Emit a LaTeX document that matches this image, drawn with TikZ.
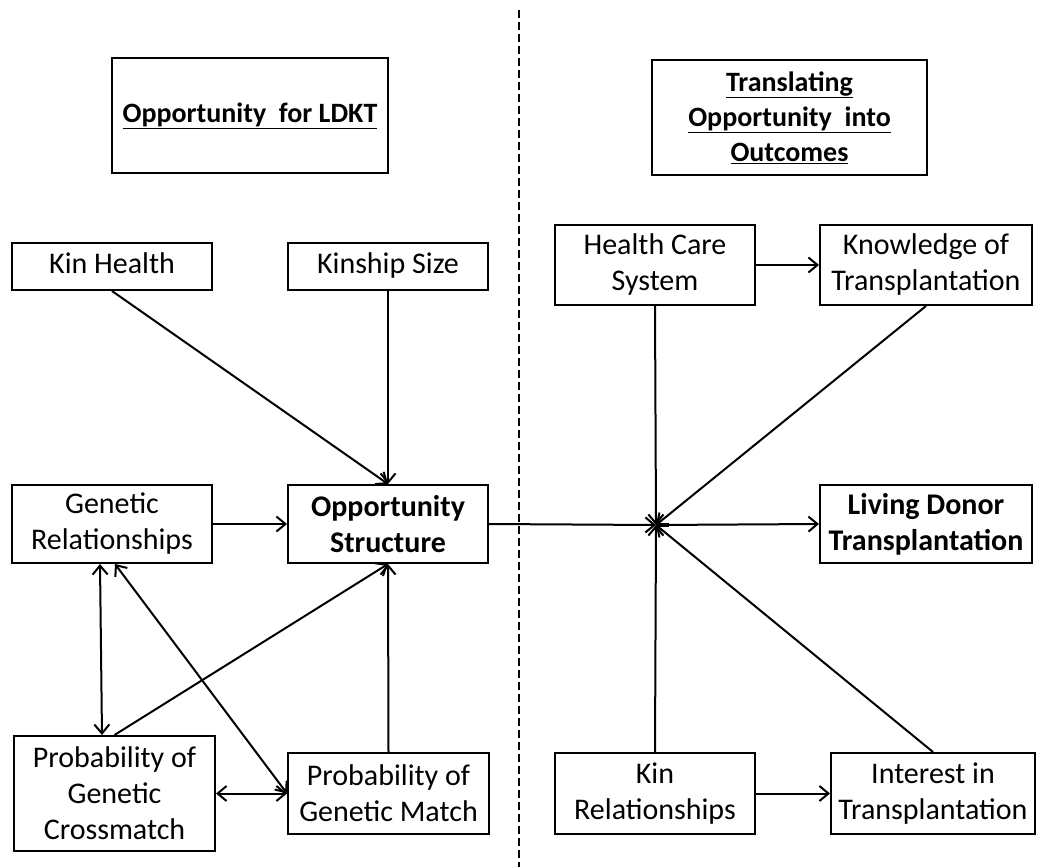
\documentclass[tikz,border=0pt]{standalone}
\usepackage{fontspec}
\setmainfont{Carlito}
\usetikzlibrary{arrows.meta}

\begin{document}
\begin{tikzpicture}[x=1pt,y=-1pt,
  box/.style={draw,line width=2pt,align=center,inner sep=0pt,
    minimum width=200pt,minimum height=80pt,font=\fontsize{30}{36}\selectfont},
  head/.style={box,font=\fontsize{28}{35}\selectfont\bfseries},
  oneline/.style={text height=21pt,text depth=7pt},
  arr/.style={-{Straight Barb[length=9pt,width=15pt]},line width=2pt},
  biarr/.style={{Straight Barb[length=9pt,width=15pt]}-{Straight Barb[length=9pt,width=15pt]},line width=2pt}]
  \useasboundingbox (0,0) rectangle (1037,867);
  % headings
  \node[head,minimum width=276pt,minimum height=115pt] (lefthead) at (250,115.5) {\underline{Opportunity\ \ for LDKT}};
  \node[head,minimum width=275pt,minimum height=115pt] (righthead) at (789.5,117.5)
    {\underline{Translating}\\\underline{Opportunity\ \ into}\\\underline{Outcomes}};
  \coordinate (divtop) at (519,10);
  \coordinate (divbot) at (519,867);
  \draw[dashed,dash pattern=on 8pt off 4pt,line width=1.8pt] (divtop) -- (divbot);
  % opportunity side
  \node[box,oneline,minimum height=47pt] (kinhealth) at (112,266.5) {Kin Health};
  \node[box,oneline,minimum height=47pt] (kinsize) at (388,266.5) {Kinship Size};
  \node[box,minimum height=78pt] (genrel) at (112,524) {Genetic\\Relationships};
  \node[box,minimum height=78pt,font=\fontsize{30}{36}\selectfont\bfseries] (oppstruct) at (388,524) {Opportunity\\Structure};
  \node[box,minimum width=201pt,minimum height=115pt] (crossmatch) at (114.5,793.5) {Probability of\\Genetic\\Crossmatch};
  \node[box,minimum width=201pt,minimum height=81pt] (genmatch) at (388.5,793.5) {Probability of\\Genetic Match};
  % outcome side
  \node[box] (hcsystem) at (655,265) {Health Care\\System};
  \node[box,minimum width=212pt] (knowledge) at (926,265) {Knowledge of\\Transplantation};
  \node[box,minimum width=212pt,minimum height=78pt,font=\fontsize{30}{36}\selectfont\bfseries] (livingdonor) at (926,524) {Living Donor\\Transplantation};
  \node[box,minimum height=81pt] (kinrel) at (655,793.5) {Kin\\Relationships};
  \node[box,minimum width=204pt,minimum height=81pt] (interest) at (933,793.5) {Interest in\\Transplantation};
  \coordinate (hub) at (656,525);

  \draw[arr] (kinhealth.south) -- (oppstruct.north);
  \draw[arr] (kinsize.south) -- (oppstruct.north);
  \draw[arr] (genrel.east) -- (oppstruct.west);
  \draw[arr] (crossmatch.north) -- (oppstruct.south);
  \draw[arr] (genmatch.north) -- (oppstruct.south);
  \draw[biarr] ([xshift=-12pt]genrel.south) -- ([xshift=-12.5pt]crossmatch.north);
  \draw[biarr] ([xshift=3pt]genrel.south) -- (genmatch.west);
  \draw[biarr] (crossmatch.east) -- (genmatch.west);
  \draw[arr] (oppstruct.east) -- (hub);
  \draw[arr] (hub) -- (livingdonor.west);
  \draw[arr] (hcsystem.south) -- (hub);
  \draw[arr] (knowledge.south) -- (hub);
  \draw[arr] (kinrel.north) -- (hub);
  \draw[arr] (interest.north) -- (hub);
  \draw[arr] (hcsystem.east) -- (knowledge.west);
  \draw[arr] (kinrel.east) -- (interest.west);
\end{tikzpicture}
\end{document}
